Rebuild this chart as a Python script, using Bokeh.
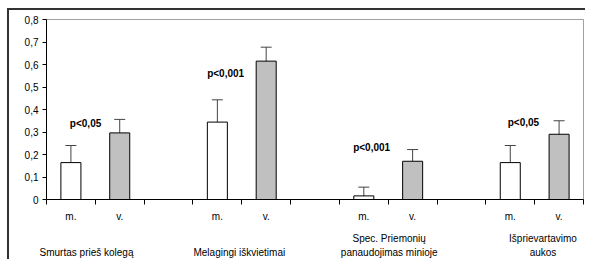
from bokeh.plotting import figure
from bokeh.layouts import column, row
from bokeh.models import (ColumnDataSource, FixedTicker, LinearAxis, Whisker, TeeHead,
                          CustomJSTickFormatter, Range1d, Div)
from bokeh.core.properties import value
from bokeh.embed import file_html
from bokeh.resources import INLINE

# ---- data ----
groups = ["Smurtas prieš kolegą", "Melagingi iškvietimai",
          "Spec. Priemonių\npanaudojimas minioje", "Išprievartavimo\naukos"]
sex_labels = ["m.", "v."]
m_values = [0.164, 0.344, 0.016, 0.164]
m_lower = [0.097, 0.256, 0.0, 0.097]
m_upper = [0.240, 0.443, 0.055, 0.240]
v_values = [0.296, 0.615, 0.170, 0.290]
v_lower = [0.236, 0.546, 0.123, 0.232]
v_upper = [0.356, 0.677, 0.222, 0.350]
p_texts = ["p<0,05", "p<0,001", "p<0,001", "p<0,05"]
p_y = [0.338, 0.56, 0.231, 0.342]
y_ticks = [0, 0.1, 0.2, 0.3, 0.4, 0.5, 0.6, 0.7, 0.8]

# ---- layout helpers ----
slots_per_group = 3
n_slots = slots_per_group * len(groups) - 1
m_x = [slots_per_group * g + 0.5 for g in range(len(groups))]
v_x = [slots_per_group * g + 1.5 for g in range(len(groups))]
p_x_offset = [0.30, 0.17, 0.16, 0.27]
p_x = [m_x[i] + p_x_offset[i] for i in range(len(groups))]
group_label_x = [0.82, 3.95, 7.02, 10.17]
FONT = "Liberation Sans"

p = figure(frame_width=537, frame_height=180, output_backend="svg", toolbar_location=None,
           x_range=Range1d(0, n_slots), y_range=Range1d(0, 0.8),
           min_border_left=37, min_border_right=3, min_border_top=9, min_border_bottom=0,
           x_axis_type=None, y_axis_type=None, margin=0)
p.xgrid.visible = False
p.ygrid.visible = False
p.outline_line_color = "#a0a0a0"
p.outline_line_width = 1
p.background_fill_color = "white"
p.border_fill_color = "white"

# y axis
yax = LinearAxis(ticker=FixedTicker(ticks=y_ticks, minor_ticks=[]),
                 formatter=CustomJSTickFormatter(code="return tick == 0 ? '0' : tick.toFixed(1).replace('.', ',');"))
yax.major_tick_out = 4
yax.major_tick_in = 0
yax.axis_line_color = "black"
yax.major_tick_line_color = "black"
yax.major_label_text_font = FONT
yax.major_label_text_font_size = "10px"
yax.major_label_text_color = "black"
yax.major_label_standoff = 4
p.add_layout(yax, "left")

# x axis line with tick marks at slot boundaries (no labels)
bound = list(range(n_slots + 1))
tax = LinearAxis(ticker=FixedTicker(ticks=bound, minor_ticks=[]),
                 major_label_overrides={b: "" for b in bound})
tax.major_tick_out = 5
tax.major_tick_in = 0
tax.major_tick_line_color = "black"
tax.axis_line_color = "black"
tax.major_label_text_font_size = "1px"
tax.major_label_standoff = 0
p.add_layout(tax, "below")

# m./v. labels
x_tick_pos = []
x_over = {}
for g in range(len(groups)):
    x_tick_pos += [m_x[g], v_x[g]]
    x_over[m_x[g]] = sex_labels[0]
    x_over[v_x[g]] = sex_labels[1]
xax = LinearAxis(ticker=FixedTicker(ticks=x_tick_pos, minor_ticks=[]),
                 major_label_overrides=x_over)
xax.major_tick_out = 0
xax.major_tick_in = 0
xax.major_tick_line_color = None
xax.axis_line_color = None
xax.major_label_text_font = FONT
xax.major_label_text_font_size = "10px"
xax.major_label_text_color = "black"
xax.major_label_standoff = 6
p.add_layout(xax, "below")

# group labels: first lines of two-line labels, then last lines
first_pos, first_over, last_pos, last_over = [], {}, [], {}
for g, name in enumerate(groups):
    parts = name.split("\n")
    if len(parts) > 1:
        first_pos.append(group_label_x[g])
        first_over[group_label_x[g]] = parts[0]
    last_pos.append(group_label_x[g])
    last_over[group_label_x[g]] = parts[-1]

for pos, over, standoff in [(first_pos, first_over, 8), (last_pos, last_over, 0)]:
    ax = LinearAxis(ticker=FixedTicker(ticks=pos, minor_ticks=[]), major_label_overrides=over)
    ax.axis_line_color = None
    ax.major_tick_line_color = None
    ax.minor_tick_line_color = None
    ax.major_tick_out = 0
    ax.major_tick_in = 0
    ax.major_label_text_font = FONT
    ax.major_label_text_font_size = "10px"
    ax.major_label_text_color = "black"
    ax.major_label_standoff = standoff
    p.add_layout(ax, "below")

# bars
bar_w = 0.41
src_m = ColumnDataSource(dict(x=m_x, top=m_values, lower=m_lower, upper=m_upper))
src_v = ColumnDataSource(dict(x=v_x, top=v_values, lower=v_lower, upper=v_upper))
p.vbar(x="x", top="top", width=bar_w, source=src_m, fill_color="white", line_color="black", line_width=1)
p.vbar(x="x", top="top", width=bar_w, source=src_v, fill_color="#c0c0c0", line_color="black", line_width=1)

for src in (src_m, src_v):
    w = Whisker(base="x", lower="lower", upper="upper", source=src, dimension="height",
                line_color="#444444", line_width=1,
                upper_head=TeeHead(size=11, line_color="#444444", line_width=1),
                lower_head=TeeHead(size=11, line_color="#444444", line_width=1))
    p.add_layout(w)

src_p = ColumnDataSource(dict(x=p_x, y=p_y, t=p_texts))
p.text(x="x", y="y", text="t", source=src_p, text_align="center", text_baseline="middle",
       text_font=value(FONT), text_font_size="10px", text_font_style="bold", text_color="black")

top_line = Div(width=578, height=2, margin=(8, 0, 0, 7), styles={"background-color": "#333333"})
left_line = Div(width=2, height=249, margin=(0, 0, 0, 7), styles={"background-color": "#333333"})
layout = column(top_line, row(left_line, p, spacing=0, margin=0), spacing=0, margin=0)

open("out.html", "w").write(file_html(layout, INLINE))
